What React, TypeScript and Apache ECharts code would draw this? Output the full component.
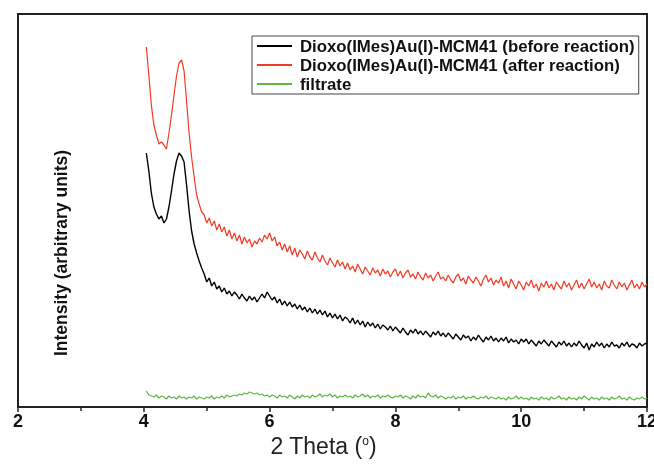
import React, { useEffect, useRef } from "react";
import * as echarts from "echarts";

// 2θ sampling of the scans (degrees)
const X_START = 4.04;
const X_STEP = 0.04;

const seriesNames = [
  "Dioxo(IMes)Au(I)-MCM41 (before reaction)",
  "Dioxo(IMes)Au(I)-MCM41 (after reaction)",
  "filtrate",
];

const xTicks = [2, 4, 6, 8, 10, 12];

// intensity (arbitrary units)
const beforeReaction = [
  254, 236, 214, 200, 193, 188, 191, 184, 188, 200,
  216, 233, 246, 254, 251, 245, 222, 196, 176, 163,
  154, 146, 139, 133, 125, 129, 121, 125, 118, 121,
  115, 119, 113, 116, 111, 115, 112, 108, 113, 109,
  106, 111, 107, 110, 105, 109, 113, 109, 115, 111,
  107, 110, 104, 108, 102, 106, 101, 105, 100, 103,
  98, 102, 97, 100, 95, 99, 94, 98, 93, 97,
  92, 96, 90, 94, 89, 93, 88, 92, 86, 90,
  88, 84, 89, 83, 87, 82, 86, 80, 85, 81,
  84, 79, 83, 78, 82, 80, 77, 81, 76, 80,
  77, 74, 79, 75, 72, 77, 74, 78, 73, 76,
  72, 76, 73, 70, 75, 72, 76, 71, 74, 70,
  74, 71, 68, 73, 70, 67, 72, 69, 71, 66,
  70, 67, 72, 68, 65, 70, 67, 71, 66, 69,
  65, 69, 66, 70, 64, 68, 65, 67, 63, 68,
  65, 68, 63, 67, 64, 61, 66, 63, 67, 64,
  61, 66, 63, 60, 65, 62, 66, 61, 64, 60,
  64, 61, 66, 62, 59, 64, 57, 63, 60, 65,
  61, 64, 59, 63, 60, 65, 61, 62, 59, 64,
  61, 65, 60, 63, 62, 59, 64, 61, 63, 64,
];

const afterReaction = [
  360, 332, 302, 282, 272, 263, 265, 262, 258, 274,
  292, 312, 331, 344, 347, 336, 306, 274, 250, 230,
  212, 203, 195, 192, 184, 189, 181, 186, 177, 183,
  175, 180, 171, 177, 168, 174, 166, 172, 163, 170,
  164, 168, 160, 166, 163, 169, 165, 172, 168, 174,
  166, 170, 161, 165, 157, 163, 155, 161, 152, 159,
  150, 157, 153, 148, 156, 150, 147, 155, 149, 145,
  152, 146, 142, 149, 144, 140, 147, 141, 145, 138,
  144, 137, 141, 135, 143, 138, 133, 140, 136, 132,
  139, 134, 137, 131, 138, 133, 136, 130, 135, 138,
  131, 136, 129, 134, 137, 130, 133, 128, 135, 130,
  127, 134, 129, 132, 126, 131, 135, 128, 130, 126,
  132, 127, 124, 130, 133, 126, 129, 123, 131, 127,
  124, 130, 126, 121, 128, 132, 125, 129, 122, 127,
  124, 130, 121, 126, 119, 128, 123, 118, 126, 122,
  117, 125, 121, 127, 119, 123, 116, 124, 120, 126,
  119, 123, 117, 125, 121, 118, 126, 120, 124, 117,
  122, 127, 119, 124, 118, 123, 128, 120, 125, 119,
  123, 117, 126, 121, 119, 127, 122, 118, 125, 120,
  124, 117, 122, 127, 119, 123, 118, 125, 120, 123,
];

const filtrate = [
  16, 12, 11, 10, 12, 9, 11, 10, 8, 11,
  9, 10, 8, 11, 9, 10, 8, 10, 9, 11,
  8, 10, 9, 8, 10, 9, 11, 8, 10, 9,
  11, 9, 12, 10, 11, 12, 11, 13, 12, 14,
  13, 15, 14, 13, 14, 12, 13, 11, 12, 10,
  12, 11, 9, 12, 10, 11, 9, 12, 10, 8,
  11, 9, 12, 10, 11, 9, 12, 10, 11, 13,
  10, 12, 11, 13, 10, 12, 9, 11, 10, 12,
  10, 11, 9, 12, 10, 11, 13, 10, 12, 9,
  11, 10, 12, 9, 11, 10, 12, 10, 9, 11,
  10, 12, 9, 11, 10, 8, 11, 9, 12, 10,
  11, 9, 14, 11, 10, 12, 9, 11, 10, 8,
  10, 9, 11, 8, 10, 9, 11, 8, 10, 9,
  11, 9, 8, 10, 9, 11, 8, 10, 9, 8,
  10, 8, 9, 7, 10, 8, 9, 11, 8, 10,
  8, 9, 7, 10, 8, 9, 7, 10, 8, 9,
  7, 10, 8, 9, 11, 8, 9, 7, 10, 8,
  9, 7, 10, 8, 11, 9, 7, 10, 8, 9,
  7, 10, 8, 9, 7, 10, 8, 9, 11, 8,
  9, 7, 10, 8, 7, 9, 8, 10, 8, 9,
];

const colors = ["#000000", "#f23b26", "#5fb845"];
const widths = [1.4, 1.2, 1.2];

const FONT = "'Liberation Sans', Arial, Helvetica, sans-serif";

function toPairs(vals: number[]) {
  return vals.map((v, i) => [+(X_START + i * X_STEP).toFixed(2), v]);
}

export default function App() {
  const ref = useRef<HTMLDivElement>(null);
  useEffect(() => {
    if (!ref.current) return;
    const chart = echarts.init(ref.current, undefined, { renderer: "svg" });
    const allSeries = [beforeReaction, afterReaction, filtrate];
    chart.setOption({
      animation: false,
      grid: {
        left: 18,
        right: 7,
        top: 14,
        bottom: 59,
        outerBoundsMode: "none",
        containLabel: false,
        show: true,
        borderColor: "#222",
        borderWidth: 2,
        backgroundColor: "transparent",
      },
      legend: {
        orient: "vertical",
        left: 252,
        top: 36,
        padding: [1, 4, 1, 5],
        itemGap: 1,
        itemWidth: 35,
        itemHeight: 2,
        icon: "rect",
        borderColor: "#444",
        borderWidth: 1,
        data: seriesNames,
        textStyle: {
          fontFamily: FONT,
          fontWeight: "bold",
          fontSize: 16.8,
          color: "#111",
          lineHeight: 18,
          padding: [0, 0, 0, 3],
        },
      },
      xAxis: {
        type: "value",
        min: xTicks[0],
        max: xTicks[xTicks.length - 1],
        interval: 2,
        name: "2 Theta ({sup|o})",
        nameLocation: "middle",
        nameGap: 27,
        nameTextStyle: {
          fontFamily: FONT,
          fontSize: 23,
          color: "#222",
          padding: [0, 18, 0, 0],
          rich: {
            sup: { fontSize: 12, verticalAlign: "top", padding: [0, 0, 10, 0], fontFamily: FONT, color: "#222" },
          },
        },
        axisLine: { show: true, lineStyle: { color: "#222", width: 2 } },
        axisTick: { show: true, inside: false, length: 5, lineStyle: { color: "#222", width: 1.5 } },
        minorTick: { show: true, splitNumber: 2, length: 4, lineStyle: { color: "#222", width: 1.5 } },
        axisLabel: {
          fontFamily: FONT,
          fontWeight: "bold",
          fontSize: 18,
          color: "#111",
          margin: 5,
        },
        splitLine: { show: false },
      },
      yAxis: {
        type: "value",
        min: 0,
        max: 393,
        axisLine: { show: false },
        axisTick: { show: false },
        axisLabel: { show: false },
        splitLine: { show: false },
      },
      graphic: [
        {
          type: "text",
          x: 61,
          y: 253,
          rotation: Math.PI / 2,
          style: {
            text: "Intensity (arbitrary units)",
            fontFamily: FONT,
            fontWeight: "bold",
            fontSize: 17.5,
            fill: "#111",
            textAlign: "center",
            textVerticalAlign: "middle",
          },
        },
      ],
      series: allSeries.map((vals, k) => ({
        name: seriesNames[k],
        type: "line",
        data: toPairs(vals),
        showSymbol: false,
        symbol: "none",
        lineStyle: { color: colors[k], width: widths[k] },
        itemStyle: { color: colors[k] },
      })),
    });
    return () => chart.dispose();
  }, []);
  return (
    <div
      ref={ref}
      style={{ position: "fixed", left: 0, top: 0, width: 654, height: 466 }}
    />
  );
}
